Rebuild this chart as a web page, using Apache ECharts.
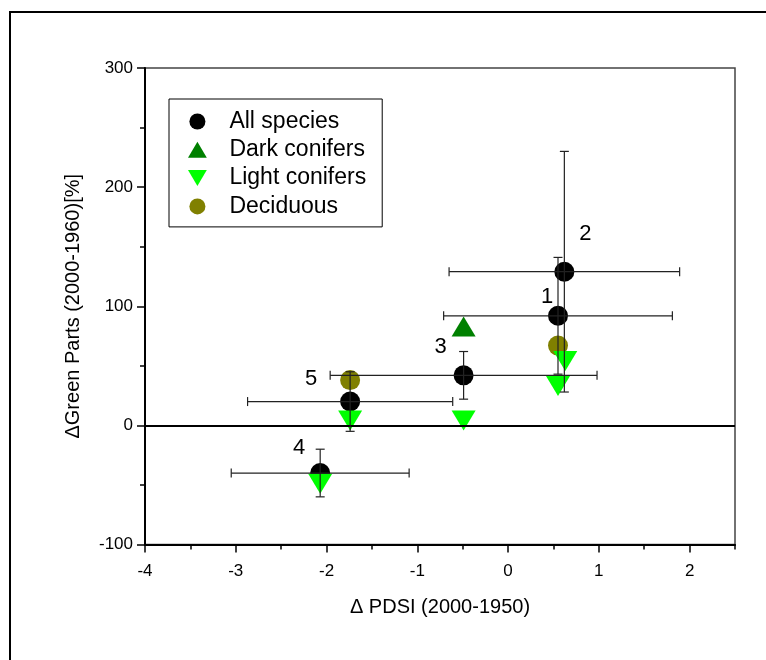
<!DOCTYPE html>
<html>
<head>
<meta charset="utf-8">
<script src="https://cdn.jsdelivr.net/npm/echarts@6/dist/echarts.min.js"></script>
<style>
html,body{margin:0;padding:0;background:#fff;}
#chart{width:766px;height:660px;}
</style>
</head>
<body>
<div id="chart"></div>
<script>
// ---- Data ----
const xTickValues = [-4, -3, -2, -1, 0, 1, 2];
const yTickValues = [-100, 0, 100, 200, 300];

const allX    = [0.55, 0.62, -0.49, -2.07, -1.74];
const allY    = [92, 129, 42, -40, 20];
const allXErr = [1.26, 1.27, 1.47, 0.98, 1.13];
const allYErr = [49, 101, 20, 20, 25];
const pointLabels = ['1', '2', '3', '4', '5'];

const darkX = [-0.49];
const darkY = [83];

const lightX = [-1.74, -2.07, -0.49, 0.55, 0.63];
const lightY = [4, -49, 4, 33, 54];

const decidX = [0.55, -1.74];
const decidY = [67, 38];

const seriesNames = ['All species', 'Dark conifers', 'Light conifers', 'Deciduous'];

// ---- Styling (not data) ----
const FONT = 'Liberation Sans, Arial, sans-serif';
const labelOffsets = [[-11, -19], [21, -38], [-23, -28], [-21, -25], [-39, -23]];
const upTriangle = 'path://M1,0 L2,1.7 L0,1.7 Z';
const downTriangle = 'path://M0,0 L2,0 L1,1.7 Z';

const chart = echarts.init(document.getElementById('chart'), null, {renderer: 'canvas'});

const allData = allX.map((x, i) => ({
  value: [x, allY[i]],
  label: {
    show: true,
    formatter: pointLabels[i],
    position: 'inside',
    offset: labelOffsets[i],
    fontSize: 22,
    fontFamily: FONT,
    color: '#000'
  }
}));
const errData = allX.map((x, i) => [x, allY[i], allXErr[i], allYErr[i]]);

const option = {
  backgroundColor: '#fff',
  animation: false,
  graphic: [{
    type: 'rect',
    shape: {x: 10, y: 12, width: 900, height: 800},
    style: {fill: 'none', stroke: '#000', lineWidth: 2},
    silent: true,
    z: 0
  }],
  grid: {
    left: 145, right: 31, top: 68, bottom: 115.5,
    show: true, borderColor: '#444', borderWidth: 1.5, backgroundColor: 'transparent'
  },
  legend: {
    data: seriesNames,
    orient: 'vertical',
    left: 169, top: 99,
    padding: [11, 16, 9, 19],
    itemWidth: 24, itemHeight: 16,
    itemGap: 5.3,
    borderColor: '#000', borderWidth: 1,
    backgroundColor: '#fff',
    textStyle: {fontSize: 23, fontFamily: FONT, color: '#000', lineHeight: 22, padding: [0, 0, 0, 15]},
    selectedMode: false
  },
  xAxis: [{
    type: 'value', min: -4, max: 2.5, interval: 0.5,
    position: 'bottom',
    axisLine: {show: true, onZero: false, lineStyle: {color: '#000', width: 2}},
    axisTick: {show: true, inside: false, length: 5, lineStyle: {color: '#000', width: 1.5}},
    axisLabel: {show: false},
    splitLine: {show: false}
  }, {
    type: 'value', min: -4, max: 2.5, interval: 1,
    position: 'bottom',
    axisLine: {show: false, onZero: false},
    axisTick: {show: true, inside: false, length: 8, customValues: xTickValues, lineStyle: {color: '#000', width: 1.5}},
    axisLabel: {show: true, customValues: xTickValues, fontSize: 17, fontFamily: FONT, color: '#000', margin: 18,
      formatter: v => (Number.isInteger(v) ? String(v) : '')},
    splitLine: {show: false},
    name: 'Δ PDSI (2000-1950)',
    nameLocation: 'middle',
    nameGap: 53,
    nameTextStyle: {fontSize: 20, fontFamily: FONT, color: '#000'}
  }],
  yAxis: {
    type: 'value', min: -100, max: 300, interval: 100,
    axisLine: {show: true, onZero: false, lineStyle: {color: '#000', width: 2}},
    axisTick: {show: true, inside: false, length: 8, lineStyle: {color: '#000', width: 1.5}},
    minorTick: {show: true, splitNumber: 2, length: 5, lineStyle: {color: '#000', width: 1.5}},
    axisLabel: {fontSize: 17, fontFamily: FONT, color: '#000', margin: 12},
    splitLine: {show: false},
    name: 'ΔGreen Parts (2000-1960)[%]',
    nameLocation: 'middle',
    nameGap: 62,
    nameRotate: 90,
    nameTextStyle: {fontSize: 20, fontFamily: FONT, color: '#000'}
  },
  series: [
    {
      name: seriesNames[0], type: 'scatter', xAxisIndex: 0,
      symbol: 'circle', symbolSize: 20,
      itemStyle: {color: '#000', opacity: 1},
      data: allData,
      z: 2,
      markLine: {
        silent: true, symbol: 'none',
        label: {show: false},
        lineStyle: {color: '#000', width: 2, type: 'solid'},
        data: [{yAxis: 0}]
      }
    },
    {
      name: seriesNames[1], type: 'scatter', xAxisIndex: 0,
      symbol: upTriangle, symbolSize: [24, 20],
      itemStyle: {color: '#008000', opacity: 1},
      data: darkX.map((x, i) => [x, darkY[i]]),
      z: 3
    },
    {
      name: seriesNames[3], type: 'scatter', xAxisIndex: 0,
      symbol: 'circle', symbolSize: 20,
      itemStyle: {color: '#808000', opacity: 1},
      data: decidX.map((x, i) => [x, decidY[i]]),
      z: 3
    },
    {
      name: seriesNames[2], type: 'scatter', xAxisIndex: 0,
      symbol: downTriangle, symbolSize: [24, 20],
      itemStyle: {color: '#00ff00', opacity: 1},
      data: lightX.map((x, i) => [x, lightY[i]]),
      z: 4
    },
    {
      type: 'custom', xAxisIndex: 0,
      silent: true,
      z: 5,
      encode: {x: 0, y: 1},
      data: errData,
      renderItem: function (params, api) {
        const x = api.value(0), y = api.value(1), ex = api.value(2), ey = api.value(3);
        const l = api.coord([x - ex, y]);
        const r = api.coord([x + ex, y]);
        const t = api.coord([x, y + ey]);
        const b = api.coord([x, y - ey]);
        const c = 4.5;
        const st = {stroke: '#222', lineWidth: 1.2};
        const line = (x1, y1, x2, y2) => ({type: 'line', shape: {x1, y1, x2, y2}, style: st});
        return {
          type: 'group',
          children: [
            line(l[0], l[1], r[0], r[1]),
            line(l[0], l[1] - c, l[0], l[1] + c),
            line(r[0], r[1] - c, r[0], r[1] + c),
            line(t[0], t[1], b[0], b[1]),
            line(t[0] - c, t[1], t[0] + c, t[1]),
            line(b[0] - c, b[1], b[0] + c, b[1])
          ]
        };
      }
    }
  ]
};
chart.setOption(option);
</script>
</body>
</html>
